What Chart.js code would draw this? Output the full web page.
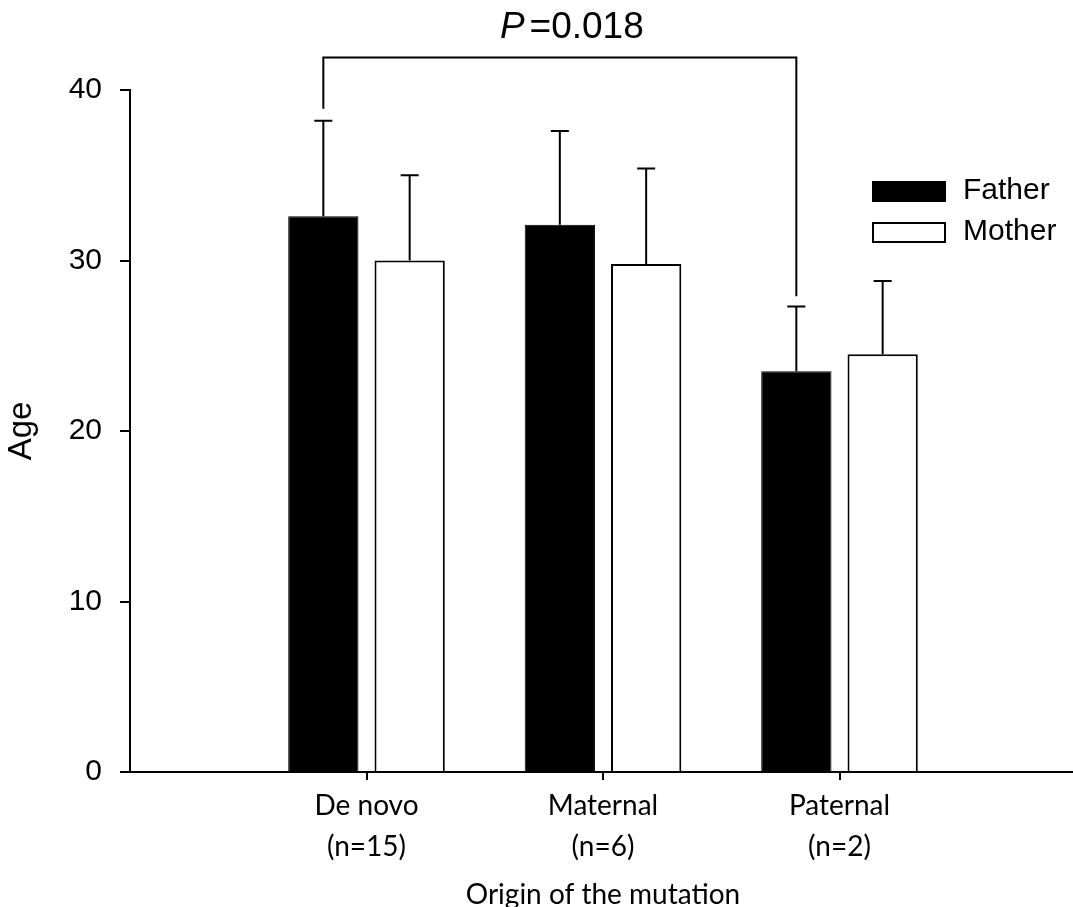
<!DOCTYPE html>
<html>
<head>
<meta charset="utf-8">
<script src="https://cdn.jsdelivr.net/npm/chart.js@4.4.1/dist/chart.umd.min.js"></script>
<style>
  html, body { margin: 0; padding: 0; background: #fff; overflow: hidden; }
  #wrap { width: 1073px; height: 907px; overflow: hidden; }
</style>
</head>
<body>
<div id="wrap"><canvas id="chart" width="1082" height="907"></canvas></div>
<script>
// data (empty slots at both ends keep the groups centred)
const categories = ['', ['De novo', '(n=15)'], ['Maternal', '(n=6)'], ['Paternal', '(n=2)'], ''];
const fatherMean = [null, 32.6, 32.1, 23.5, null];
const fatherErr  = [null, 5.6, 5.5, 3.8, null];
const motherMean = [null, 30.0, 29.8, 24.5, null];
const motherErr  = [null, 5.0, 5.6, 4.3, null];
const seriesNames = ['Father', 'Mother'];
const yTicks = [0, 10, 20, 30, 40];

// significance bracket: Father De novo vs Father Paternal
const bracketFrom = 1, bracketTo = 3;
const bracketTop = 41.9, bracketLeftEnd = 38.9, bracketRightEnd = 27.9;
const pLabel = ['P', '=0.018'];

const ARIAL = '"Liberation Sans", Arial, sans-serif';
const CAL = 'Lato, "Open Sans", sans-serif';

const errors = [fatherErr, motherErr];

// error bars, bracket, p value and legend
const extras = {
  id: 'extras',
  afterDatasetsDraw(chart) {
    const ctx = chart.ctx;
    const y = chart.scales.y;
    ctx.save();
    ctx.strokeStyle = '#000';
    ctx.lineWidth = 2;
    chart.data.datasets.forEach((ds, di) => {
      const meta = chart.getDatasetMeta(di);
      meta.data.forEach((bar, i) => {
        if (ds.data[i] == null) return;
        const top = y.getPixelForValue(ds.data[i] + errors[di][i]);
        ctx.beginPath();
        ctx.moveTo(bar.x, bar.y);
        ctx.lineTo(bar.x, top);
        ctx.moveTo(bar.x - 9, top);
        ctx.lineTo(bar.x + 9, top);
        ctx.stroke();
      });
    });

    // bracket
    const fm = chart.getDatasetMeta(0);
    const x1 = fm.data[bracketFrom].x, x2 = fm.data[bracketTo].x;
    const yt = y.getPixelForValue(bracketTop);
    ctx.beginPath();
    ctx.moveTo(x1, y.getPixelForValue(bracketLeftEnd));
    ctx.lineTo(x1, yt);
    ctx.lineTo(x2, yt);
    ctx.lineTo(x2, y.getPixelForValue(bracketRightEnd));
    ctx.stroke();

    ctx.fillStyle = '#000';
    ctx.textBaseline = 'alphabetic';
    ctx.font = 'italic 37px ' + ARIAL;
    const w1 = ctx.measureText(pLabel[0]).width + 5;
    ctx.font = '37px ' + ARIAL;
    const w2 = ctx.measureText(pLabel[1]).width;
    let tx = (x1 + x2) / 2 + 12 - (w1 + w2) / 2;
    ctx.font = 'italic 37px ' + ARIAL;
    ctx.fillText(pLabel[0], tx, yt - 20);
    ctx.font = '37px ' + ARIAL;
    ctx.fillText(pLabel[1], tx + w1, yt - 20);

    // legend
    const lx = 873, ly = 182;
    chart.data.datasets.forEach((ds, di) => {
      const by = ly + di * 41;
      ctx.fillStyle = ds.backgroundColor;
      ctx.fillRect(lx, by, 72, 19);
      ctx.lineWidth = 2;
      ctx.strokeStyle = '#000';
      ctx.strokeRect(lx, by, 72, 19);
      ctx.fillStyle = '#000';
      ctx.font = '30px ' + ARIAL;
      ctx.textBaseline = 'middle';
      ctx.fillText(ds.label, 963, by + 9);
    });
    ctx.restore();
  }
};

new Chart(document.getElementById('chart'), {
  type: 'bar',
  data: {
    labels: categories,
    datasets: [
      { label: seriesNames[0], data: fatherMean, backgroundColor: '#000', borderColor: '#000', borderWidth: 1 },
      { label: seriesNames[1], data: motherMean, backgroundColor: '#fff', borderColor: '#000', borderWidth: 2 }
    ]
  },
  options: {
    responsive: false,
    animation: false,
    categoryPercentage: 0.73,
    barPercentage: 0.814,
    layout: { padding: { top: 90, left: 0, right: 0, bottom: 0 } },
    plugins: { legend: { display: false }, tooltip: { enabled: false } },
    scales: {
      x: {
        offset: false,
        grid: {
          offset: false,
          drawOnChartArea: false,
          tickLength: 8,
          lineWidth: 2,
          color: c => (c.index === 0 || c.index === 4) ? 'rgba(0,0,0,0)' : '#000'
        },
        border: { color: '#000', width: 2 },
        ticks: { color: '#000', autoSkip: false, maxRotation: 0, padding: 6,
                 font: { family: CAL, size: 28, lineHeight: 1.45 } },
        title: { display: true, text: 'Origin of the mutation', color: '#000',
                 font: { family: CAL, size: 28, lineHeight: 1 }, padding: { top: 0, bottom: -2 } },
        afterFit: s => { s.height = 135; }
      },
      y: {
        min: 0, max: 40,
        afterBuildTicks: s => { s.ticks = yTicks.map(v => ({ value: v })); },
        grid: { drawOnChartArea: false, tickLength: 10, lineWidth: 2, color: '#000' },
        border: { color: '#000', width: 2 },
        ticks: { color: '#000', padding: 18, font: { family: ARIAL, size: 30 } },
        title: { display: true, text: 'Age', color: '#000',
                 font: { family: ARIAL, size: 33 }, padding: { top: 2, bottom: 0 } },
        afterFit: s => { s.width = 130; }
      }
    }
  },
  plugins: [extras]
});
</script>
</body>
</html>
